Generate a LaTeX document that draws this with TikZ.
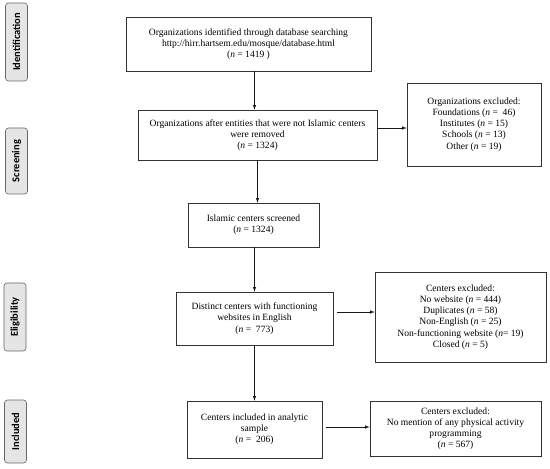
\documentclass[tikz,border=0pt]{standalone}
\usepackage{fontspec}
\setmainfont{Liberation Serif}
\newfontfamily\stagefont{Carlito}
\usetikzlibrary{positioning}
\tikzset{ % common looks of the flow chart
	flowbox/.style={
		draw=black!80, line width=0.6bp, % thin dark frame
		align=center, inner sep=2bp,
		font=\fontsize{9.6}{11.2}\selectfont
	},
	stagebox/.style={
		draw=gray!80!black, fill=gray!20, rounded corners=3bp, line width=0.6bp,
		rotate=90, minimum height=22bp, inner sep=1bp,
		font=\stagefont\bfseries\fontsize{10.5}{11}\selectfont
	},
	flowarrow/.style={
		->, >=latex, black!90, line width=0.6bp
	}
}
\begin{document}
\begin{tikzpicture}[x=1bp,y=-1bp]
			\useasboundingbox (0,0) rectangle (550,469);
			% Stage labels
			\node[stagebox,minimum width=78bp] (ident) at (16.5,42) {Identification};
			\node[stagebox,minimum width=66bp] (screen) at (16.5,161) {Screening};
			\node[stagebox,minimum width=68bp] (elig) at (15,317) {Eligibility};
			\node[stagebox,minimum width=63bp] (incl) at (15.5,431.5) {Included};
			% Main column
			\node[flowbox,minimum width=245bp,minimum height=54bp] (found) at (248.5,44)
				{Organizations identified through database searching\\http://hirr.hartsem.edu/mosque/database.html\\(\textit{n} = 1419 )};
			\node[flowbox,minimum width=239bp,minimum height=50bp] (removed) at (257.5,135)
				{Organizations after entities that were not Islamic centers\\were removed\\(\textit{n} = 1324)};
			\node[flowbox,minimum width=131bp,minimum height=44bp] (screened) at (253.5,225)
				{Islamic centers screened\\(\textit{n} = 1324)};
			\node[flowbox,minimum width=157bp,minimum height=53bp] (distinct) at (254.5,318.5)
				{Distinct centers with functioning\\websites in English\\(\textit{n} =\ \ 773)};
			\node[flowbox,minimum width=135bp,minimum height=57bp] (sample) at (254.5,429.5)
				{Centers included in analytic\\sample\\(\textit{n} =\ \ 206)};
			% Exclusions
			\node[flowbox,minimum width=134bp,minimum height=83bp] (exorg) at (474,124.5)
				{Organizations excluded:\\Foundations (\textit{n} =\ \ 46)\\Institutes (\textit{n} = 15)\\Schools (\textit{n} = 13)\\Other (\textit{n} = 19)};
			\node[flowbox,minimum width=171bp,minimum height=90bp] (excent) at (460.5,317)
				{Centers excluded:\\No website (\textit{n} = 444)\\Duplicates (\textit{n} = 58)\\Non-English (\textit{n} = 25)\\Non-functioning website (\textit{n}= 19)\\Closed (\textit{n} = 5)};
			\node[flowbox,minimum width=171bp,minimum height=55bp] (exact) at (455.5,428.5)
				{Centers excluded:\\No mention of any physical activity\\programming\\(\textit{n} = 567)};
			% Arrows
			\draw[flowarrow] (found.south -| distinct) -- (removed.north -| distinct);
			\draw[flowarrow] (removed.south) -- (removed.south |- screened.north);
			\draw[flowarrow] (screened.south -| distinct) -- (distinct.north);
			\draw[flowarrow] (distinct.south) -- (distinct.south |- sample.north);
			\draw[flowarrow] ([yshift=7bp]removed.east) -- ([yshift=7bp]removed.east -| exorg.west);
			\draw[flowarrow] ([xshift=4bp,yshift=6.5bp]distinct.east) -- ([yshift=6.5bp]distinct.east -| excent.west);
			\draw[flowarrow] ([xshift=4bp,yshift=2.5bp]sample.east) -- ([yshift=2.5bp]sample.east -| exact.west);
		\end{tikzpicture}
\end{document}
